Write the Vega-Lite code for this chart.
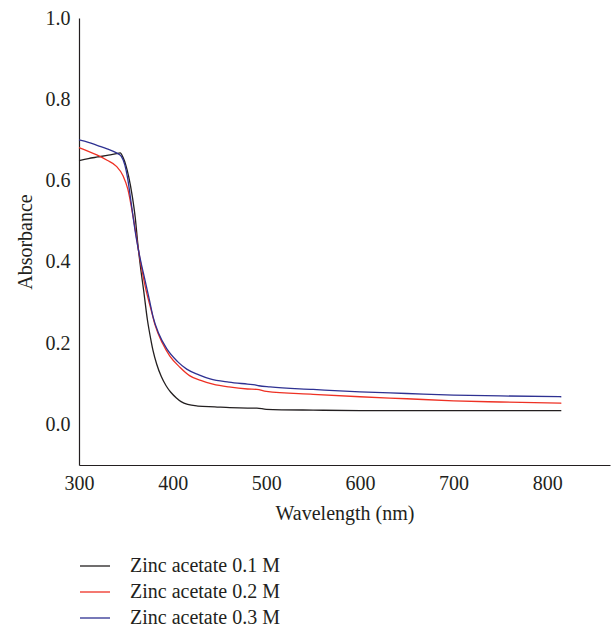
{
  "$schema": "https://vega.github.io/schema/vega-lite/v6.json",
  "autosize": {"type": "none"},
  "width": 531,
  "height": 447,
  "padding": {"left": 79, "top": 18, "right": 1, "bottom": 163},
  "config": {
    "view": {"stroke": null},
    "font": "Liberation Serif",
    "axis": {"domainColor": "#231f20", "labelColor": "#231f20", "titleColor": "#231f20", "labelFont": "Liberation Serif", "titleFont": "Liberation Serif", "labelFontSize": 20, "titleFontSize": 20, "titleFontWeight": "normal", "ticks": false, "grid": false, "domainWidth": 1.2}
  },
  "data": {"values": [
    {"s":"Zinc acetate 0.1 M","w":300,"a":0.649},{"s":"Zinc acetate 0.1 M","w":310,"a":0.654},{"s":"Zinc acetate 0.1 M","w":320,"a":0.658},{"s":"Zinc acetate 0.1 M","w":330,"a":0.662},{"s":"Zinc acetate 0.1 M","w":340,"a":0.666},{"s":"Zinc acetate 0.1 M","w":344,"a":0.668},{"s":"Zinc acetate 0.1 M","w":347,"a":0.657},{"s":"Zinc acetate 0.1 M","w":350,"a":0.638},{"s":"Zinc acetate 0.1 M","w":353,"a":0.610},{"s":"Zinc acetate 0.1 M","w":357,"a":0.560},{"s":"Zinc acetate 0.1 M","w":360,"a":0.510},{"s":"Zinc acetate 0.1 M","w":363,"a":0.440},{"s":"Zinc acetate 0.1 M","w":366,"a":0.381},{"s":"Zinc acetate 0.1 M","w":369,"a":0.330},{"s":"Zinc acetate 0.1 M","w":373,"a":0.258},{"s":"Zinc acetate 0.1 M","w":377,"a":0.205},{"s":"Zinc acetate 0.1 M","w":379,"a":0.182},{"s":"Zinc acetate 0.1 M","w":383,"a":0.148},{"s":"Zinc acetate 0.1 M","w":388,"a":0.117},{"s":"Zinc acetate 0.1 M","w":393,"a":0.095},{"s":"Zinc acetate 0.1 M","w":398,"a":0.079},{"s":"Zinc acetate 0.1 M","w":404,"a":0.065},{"s":"Zinc acetate 0.1 M","w":409,"a":0.056},{"s":"Zinc acetate 0.1 M","w":416,"a":0.049},{"s":"Zinc acetate 0.1 M","w":427,"a":0.045},{"s":"Zinc acetate 0.1 M","w":445,"a":0.043},{"s":"Zinc acetate 0.1 M","w":461,"a":0.041},{"s":"Zinc acetate 0.1 M","w":480,"a":0.040},{"s":"Zinc acetate 0.1 M","w":490,"a":0.040},{"s":"Zinc acetate 0.1 M","w":500,"a":0.037},{"s":"Zinc acetate 0.1 M","w":550,"a":0.035},{"s":"Zinc acetate 0.1 M","w":600,"a":0.034},{"s":"Zinc acetate 0.1 M","w":700,"a":0.034},{"s":"Zinc acetate 0.1 M","w":815,"a":0.034},
    {"s":"Zinc acetate 0.2 M","w":300,"a":0.681},{"s":"Zinc acetate 0.2 M","w":310,"a":0.672},{"s":"Zinc acetate 0.2 M","w":319,"a":0.663},{"s":"Zinc acetate 0.2 M","w":330,"a":0.650},{"s":"Zinc acetate 0.2 M","w":340,"a":0.635},{"s":"Zinc acetate 0.2 M","w":347,"a":0.612},{"s":"Zinc acetate 0.2 M","w":352,"a":0.580},{"s":"Zinc acetate 0.2 M","w":358,"a":0.508},{"s":"Zinc acetate 0.2 M","w":365,"a":0.408},{"s":"Zinc acetate 0.2 M","w":372,"a":0.326},{"s":"Zinc acetate 0.2 M","w":377,"a":0.282},{"s":"Zinc acetate 0.2 M","w":381,"a":0.246},{"s":"Zinc acetate 0.2 M","w":389,"a":0.200},{"s":"Zinc acetate 0.2 M","w":397,"a":0.168},{"s":"Zinc acetate 0.2 M","w":408,"a":0.140},{"s":"Zinc acetate 0.2 M","w":418,"a":0.120},{"s":"Zinc acetate 0.2 M","w":430,"a":0.108},{"s":"Zinc acetate 0.2 M","w":443,"a":0.099},{"s":"Zinc acetate 0.2 M","w":460,"a":0.092},{"s":"Zinc acetate 0.2 M","w":480,"a":0.087},{"s":"Zinc acetate 0.2 M","w":490,"a":0.086},{"s":"Zinc acetate 0.2 M","w":500,"a":0.081},{"s":"Zinc acetate 0.2 M","w":550,"a":0.074},{"s":"Zinc acetate 0.2 M","w":600,"a":0.068},{"s":"Zinc acetate 0.2 M","w":650,"a":0.063},{"s":"Zinc acetate 0.2 M","w":700,"a":0.058},{"s":"Zinc acetate 0.2 M","w":750,"a":0.055},{"s":"Zinc acetate 0.2 M","w":815,"a":0.052},
    {"s":"Zinc acetate 0.3 M","w":300,"a":0.700},{"s":"Zinc acetate 0.3 M","w":310,"a":0.694},{"s":"Zinc acetate 0.3 M","w":320,"a":0.686},{"s":"Zinc acetate 0.3 M","w":330,"a":0.678},{"s":"Zinc acetate 0.3 M","w":340,"a":0.668},{"s":"Zinc acetate 0.3 M","w":345,"a":0.660},{"s":"Zinc acetate 0.3 M","w":349,"a":0.638},{"s":"Zinc acetate 0.3 M","w":352,"a":0.605},{"s":"Zinc acetate 0.3 M","w":356,"a":0.540},{"s":"Zinc acetate 0.3 M","w":360,"a":0.475},{"s":"Zinc acetate 0.3 M","w":363,"a":0.435},{"s":"Zinc acetate 0.3 M","w":367,"a":0.390},{"s":"Zinc acetate 0.3 M","w":370,"a":0.360},{"s":"Zinc acetate 0.3 M","w":375,"a":0.308},{"s":"Zinc acetate 0.3 M","w":379,"a":0.265},{"s":"Zinc acetate 0.3 M","w":385,"a":0.224},{"s":"Zinc acetate 0.3 M","w":394,"a":0.185},{"s":"Zinc acetate 0.3 M","w":405,"a":0.155},{"s":"Zinc acetate 0.3 M","w":415,"a":0.136},{"s":"Zinc acetate 0.3 M","w":428,"a":0.122},{"s":"Zinc acetate 0.3 M","w":440,"a":0.112},{"s":"Zinc acetate 0.3 M","w":460,"a":0.104},{"s":"Zinc acetate 0.3 M","w":480,"a":0.099},{"s":"Zinc acetate 0.3 M","w":488,"a":0.097},{"s":"Zinc acetate 0.3 M","w":492,"a":0.095},{"s":"Zinc acetate 0.3 M","w":504,"a":0.092},{"s":"Zinc acetate 0.3 M","w":550,"a":0.086},{"s":"Zinc acetate 0.3 M","w":600,"a":0.080},{"s":"Zinc acetate 0.3 M","w":650,"a":0.076},{"s":"Zinc acetate 0.3 M","w":700,"a":0.072},{"s":"Zinc acetate 0.3 M","w":750,"a":0.070},{"s":"Zinc acetate 0.3 M","w":815,"a":0.068}
  ]},
  "mark": {"type": "line", "strokeWidth": 1.3, "interpolate": "monotone"},
  "encoding": {
    "x": {"field": "w", "type": "quantitative", "title": "Wavelength (nm)",
      "scale": {"domain": [300, 867], "nice": false, "zero": false},
      "axis": {"values": [300, 400, 500, 600, 700, 800], "labelPadding": 8, "titlePadding": 10, "labelFlush": false}},
    "y": {"field": "a", "type": "quantitative", "title": "Absorbance",
      "scale": {"domain": [-0.1, 1.0], "nice": false, "zero": false},
      "axis": {"values": [0, 0.2, 0.4, 0.6, 0.8, 1.0], "format": ".1f", "labelPadding": 9, "titlePadding": 10, "labelFlush": false}},
    "color": {"field": "s", "type": "nominal", "title": null,
      "scale": {"domain": ["Zinc acetate 0.1 M", "Zinc acetate 0.2 M", "Zinc acetate 0.3 M"], "range": ["#231f20", "#ee3124", "#2e3192"]},
      "legend": {"orient": "none", "legendX": 0, "legendY": 532, "direction": "vertical", "symbolType": "stroke", "symbolSize": 900, "symbolStrokeWidth": 1.3, "labelFont": "Liberation Serif", "labelFontSize": 20, "labelColor": "#231f20", "labelOffset": 19, "rowPadding": 0}
    }
  }
}
